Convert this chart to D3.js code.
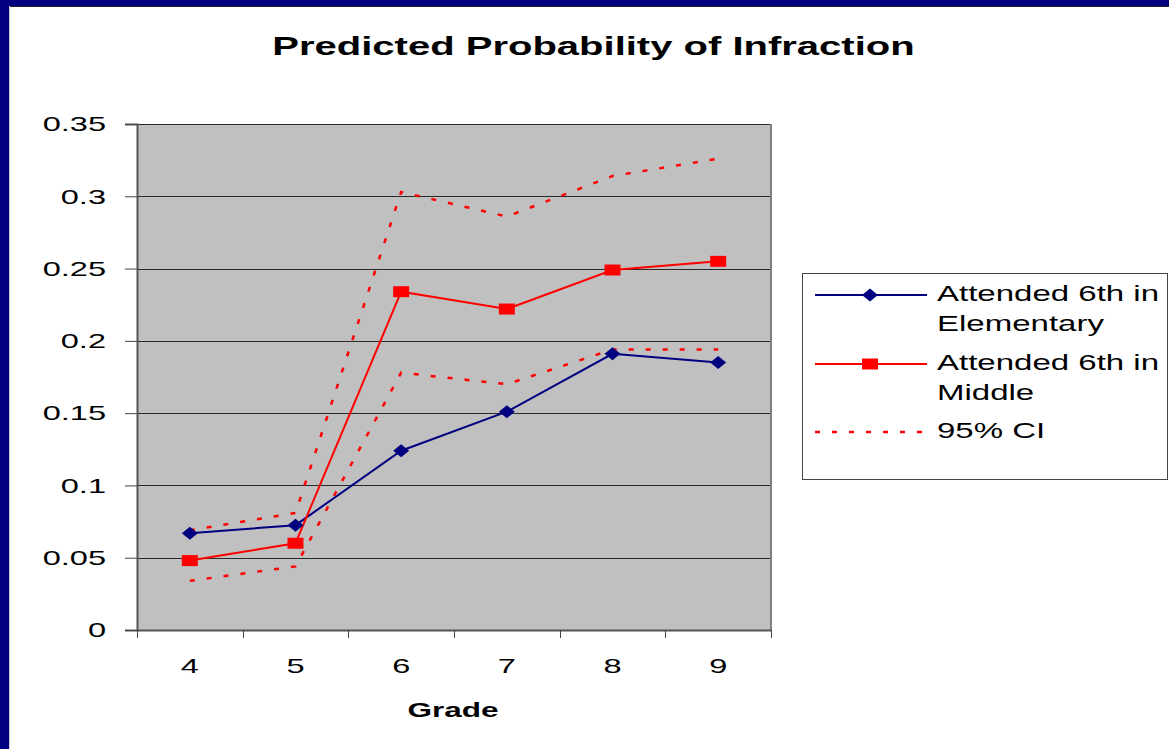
<!DOCTYPE html>
<html>
<head>
<meta charset="utf-8">
<script src="https://cdn.jsdelivr.net/npm/d3@7"></script>
<style>
  html, body { margin: 0; padding: 0; background: #fff; }
  svg { display: block; }
  text { font-family: "Liberation Sans", Arial, sans-serif; }
</style>
</head>
<body>
<svg id="chart" width="1169" height="749"></svg>
<script>
// ---- Data ----
const grades = ["4", "5", "6", "7", "8", "9"];
const elementary = [0.067, 0.0725, 0.124, 0.151, 0.191, 0.185];
const middle = [0.048, 0.060, 0.234, 0.222, 0.249, 0.255];
const ciUpper = [0.069, 0.081, 0.303, 0.286, 0.314, 0.326];
const ciLower = [0.034, 0.044, 0.178, 0.170, 0.194, 0.194];
const yTicks = [0, 0.05, 0.1, 0.15, 0.2, 0.25, 0.3, 0.35];
const yTickLabels = ["0", "0.05", "0.1", "0.15", "0.2", "0.25", "0.3", "0.35"];
const legendLabels = [["Attended 6th in", "Elementary"], ["Attended 6th in", "Middle"], ["95% CI"]];
const titleText = "Predicted Probability of Infraction";
const xTitle = "Grade";

const NAVY = "#000080", RED = "#ff0000";
const svg = d3.select("#chart");

function stretch(sel, f) {
  sel.each(function () {
    const w = this.getComputedTextLength();
    d3.select(this).attr("textLength", w * f).attr("lengthAdjust", "spacingAndGlyphs");
  });
}

// frame bands
svg.append("rect").attr("x", 0).attr("y", 0).attr("width", 1169).attr("height", 6).attr("fill", NAVY);
svg.append("rect").attr("x", 0).attr("y", 0).attr("width", 9).attr("height", 749).attr("fill", NAVY);
svg.append("line").attr("x1", 9).attr("x2", 1169).attr("y1", 6.5).attr("y2", 6.5).attr("stroke", "#222").attr("stroke-width", 1);
svg.append("line").attr("x1", 9.5).attr("x2", 9.5).attr("y1", 6).attr("y2", 749).attr("stroke", "#ccc").attr("stroke-width", 1);

// scales
const x = d3.scaleBand().domain(grades).range([137, 771]).padding(0);
const y = d3.scaleLinear().domain([0, 0.35]).range([630, 124]);
const cx = g => x(g) + x.bandwidth() / 2;

// plot area
svg.append("rect").attr("x", 137).attr("y", 124).attr("width", 634).attr("height", 506).attr("fill", "#c0c0c0");

// gridlines
svg.append("g").selectAll("line").data(yTicks.filter(v => v > 0)).join("line")
  .attr("x1", 137).attr("x2", 771)
  .attr("y1", d => Math.round(y(d)) + 0.5).attr("y2", d => Math.round(y(d)) + 0.5)
  .attr("stroke", "#2a2a2a").attr("stroke-width", 1);

// right border
svg.append("line").attr("x1", 771).attr("x2", 771).attr("y1", 124).attr("y2", 630)
  .attr("stroke", "#808080").attr("stroke-width", 2);

// Y axis
const yAxis = d3.axisLeft(y).tickValues(yTicks).tickFormat((d, i) => yTickLabels[i]).tickSize(12).tickPadding(19);
const yg = svg.append("g").attr("transform", "translate(137,0)").call(yAxis);
yg.select(".domain").attr("stroke", "#555").attr("stroke-width", 2);
yg.selectAll(".tick line").attr("stroke", "#444");
yg.selectAll(".tick text").attr("font-size", 21).attr("fill", "#000").attr("font-family", "Liberation Sans, Arial, sans-serif");
stretch(yg.selectAll(".tick text"), 1.55);

// X axis
const xAxis = d3.axisBottom(x).tickSize(0).tickPadding(28);
const xg = svg.append("g").attr("transform", "translate(0,630)").call(xAxis);
xg.select(".domain").attr("stroke", "#555").attr("stroke-width", 2);
xg.selectAll(".tick text").attr("font-size", 21).attr("fill", "#000").attr("font-family", "Liberation Sans, Arial, sans-serif");
stretch(xg.selectAll(".tick text"), 1.55);
// boundary ticks
const bounds = grades.map(g => x(g)).concat([x(grades[grades.length - 1]) + x.bandwidth()]);
svg.append("g").selectAll("line").data(bounds).join("line")
  .attr("x1", d => Math.round(d) + 0.5).attr("x2", d => Math.round(d) + 0.5)
  .attr("y1", 630).attr("y2", 638).attr("stroke", "#444").attr("stroke-width", 1);

// lines
const lineGen = d3.line().x((d, i) => cx(grades[i])).y(d => y(d));
const dash = "5,12";
svg.append("path").datum(ciUpper).attr("d", lineGen).attr("fill", "none").attr("stroke", RED).attr("stroke-width", 2.5).attr("stroke-dasharray", dash);
svg.append("path").datum(ciLower).attr("d", lineGen).attr("fill", "none").attr("stroke", RED).attr("stroke-width", 2.5).attr("stroke-dasharray", dash);
svg.append("path").datum(elementary).attr("d", lineGen).attr("fill", "none").attr("stroke", NAVY).attr("stroke-width", 2);
svg.append("path").datum(middle).attr("d", lineGen).attr("fill", "none").attr("stroke", RED).attr("stroke-width", 2);

// markers
const diamond = (px, py) => `M${px - 8},${py} L${px},${py - 6.5} L${px + 8},${py} L${px},${py + 6.5} Z`;
svg.append("g").selectAll("path").data(elementary).join("path")
  .attr("d", (d, i) => diamond(cx(grades[i]), y(d))).attr("fill", NAVY);
svg.append("g").selectAll("rect").data(middle).join("rect")
  .attr("x", (d, i) => cx(grades[i]) - 8).attr("y", d => y(d) - 5.5)
  .attr("width", 16).attr("height", 11).attr("fill", RED);

// title
const t = svg.append("text").attr("x", 593.5).attr("y", 55).attr("text-anchor", "middle")
  .attr("font-size", 25).attr("font-weight", "bold").attr("fill", "#000").text(titleText);
stretch(t, 1.6);

// x title
const gt = svg.append("text").attr("x", 453).attr("y", 717).attr("text-anchor", "middle")
  .attr("font-size", 21).attr("font-weight", "bold").attr("fill", "#000").text(xTitle);
stretch(gt, 1.5);

// legend
const lg = svg.append("g");
lg.append("rect").attr("x", 802.5).attr("y", 273.5).attr("width", 365).attr("height", 206)
  .attr("fill", "#fff").attr("stroke", "#444").attr("stroke-width", 1);
const legY = [295, 364, 432];
const baseY = [301, 370, 438];
// blue
lg.append("line").attr("x1", 815).attr("x2", 927).attr("y1", legY[0]).attr("y2", legY[0]).attr("stroke", NAVY).attr("stroke-width", 2);
lg.append("path").attr("d", diamond(870, legY[0])).attr("fill", NAVY);
// red
lg.append("line").attr("x1", 815).attr("x2", 927).attr("y1", legY[1]).attr("y2", legY[1]).attr("stroke", RED).attr("stroke-width", 2);
lg.append("rect").attr("x", 862).attr("y", legY[1] - 5.5).attr("width", 16).attr("height", 11).attr("fill", RED);
// CI
lg.append("line").attr("x1", 815).attr("x2", 925).attr("y1", legY[2]).attr("y2", legY[2]).attr("stroke", RED).attr("stroke-width", 2.5).attr("stroke-dasharray", dash);
legendLabels.forEach((lines, k) => {
  lines.forEach((s, j) => {
    const tx = lg.append("text").attr("x", 937).attr("y", baseY[k] + j * 30)
      .attr("font-size", 22).attr("fill", "#000").text(s);
    stretch(tx, 1.5);
  });
});
</script>
</body>
</html>
